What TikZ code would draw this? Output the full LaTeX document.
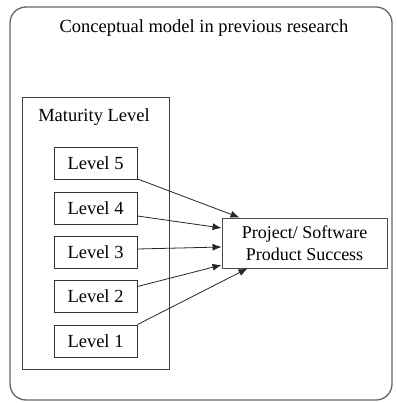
\documentclass[tikz,border=0pt]{standalone}
\usepackage{fontspec}
\setmainfont{Liberation Serif}
\usetikzlibrary{arrows.meta}
\begin{document}
\begin{tikzpicture}[x=1pt,y=-1pt,
  lvl/.style={draw=black!80, line width=0.9pt, minimum width=83pt, minimum height=32pt, inner sep=0pt, font=\fontsize{18.5}{21}\selectfont},
  arr/.style={draw=black!85, line width=0.8pt, -{Latex[length=9pt,width=7pt]}},
  txt/.style={font=\fontsize{18.5}{22}\selectfont}]
\useasboundingbox (0,0) rectangle (396,403);
% outer frame
\draw[black!60, line width=1.3pt, rounded corners=16pt] (10,7) rectangle (392,400);
\node[txt] (title) at (204,28) {Conceptual model in previous research};
% maturity group
\draw[black!75, line width=0.9pt] (22,97) rectangle (169,369);
\node[txt] (mat) at (94,117) {Maturity Level};
\node[lvl] (l5) at (95.5,163.5) {Level 5};
\node[lvl] (l4) at (95.5,208) {Level 4};
\node[lvl] (l3) at (95.5,252) {Level 3};
\node[lvl] (l2) at (95.5,296.5) {Level 2};
\node[lvl] (l1) at (95.5,341) {Level 1};
% outcome
\node[draw=black!70, line width=0.9pt, minimum width=165pt, minimum height=50pt, align=center, inner sep=0pt, font=\fontsize{18}{22}\selectfont] (ps) at (304.5,243) {Project/ Software\\Product Success};
% links (yshift is in page direction: positive moves up)
\draw[arr] ([yshift=1pt]l5.south east) -- ([xshift=18pt]ps.north west);
\draw[arr] ([yshift=-8pt]l4.east) -- ([yshift=15pt]ps.west);
\draw[arr] ([yshift=3pt]l3.east) -- ([yshift=-4pt]ps.west);
\draw[arr] ([yshift=10pt]l2.east) -- ([yshift=-22pt]ps.west);
\draw[arr] (l1.north east) -- ([xshift=26pt]ps.south west);
\end{tikzpicture}
\end{document}
